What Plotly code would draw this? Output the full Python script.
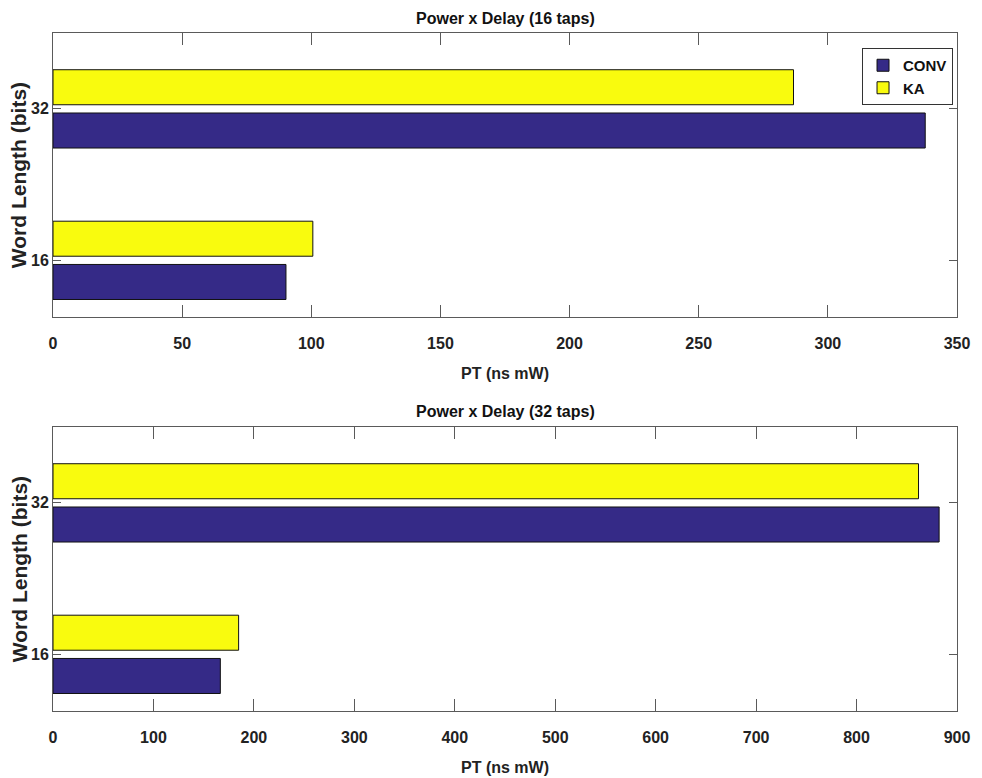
import plotly.graph_objects as go

# Word lengths (bits) on the vertical axis
word_lengths = [16, 32]

# Power x Delay, 16-tap filter (ns mW)
conv_16_taps = [90.2, 337.7]
ka_16_taps = [100.6, 286.7]

# Power x Delay, 32-tap filter (ns mW)
conv_32_taps = [166.6, 882.2]
ka_32_taps = [184.8, 861.7]

series_names = ["CONV", "KA"]
panel_titles = ["Power x Delay (16 taps)", "Power x Delay (32 taps)"]
x_title = "PT (ns mW)"
y_title = "Word Length (bits)"

CONV_COLOR = "#352A87"
KA_COLOR = "#F9FB0E"
AXIS_COLOR = "#5a5a5a"
FONT = "Liberation Sans, Arial, sans-serif"

W, H = 982, 778
M_L, M_R, M_T, M_B = 53, 20, 33, 67
plot_h = H - M_T - M_B


def py(pix):
    """Convert a pixel row of the page to a paper y coordinate."""
    return (H - M_B - pix) / plot_h


def px(pix):
    return (pix - M_L) / (W - M_L - M_R)


panels = [
    dict(conv=conv_16_taps, ka=ka_16_taps, xmax=350, dtick=50,
         top=33, bottom=317, xa="x", ya="y"),
    dict(conv=conv_32_taps, ka=ka_32_taps, xmax=900, dtick=100,
         top=427, bottom=711, xa="x2", ya="y2"),
]

fig = go.Figure()

for i, p in enumerate(panels):
    fig.add_trace(go.Bar(
        y=word_lengths, x=p["conv"], orientation="h", name=series_names[0],
        marker=dict(color=CONV_COLOR, line=dict(color="#111111", width=1)),
        width=3.7, offset=-4.15, xaxis=p["xa"], yaxis=p["ya"],
        legendgroup="conv", showlegend=(i == 0),
    ))
    fig.add_trace(go.Bar(
        y=word_lengths, x=p["ka"], orientation="h", name=series_names[1],
        marker=dict(color=KA_COLOR, line=dict(color="#111111", width=1)),
        width=3.7, offset=0.42, xaxis=p["xa"], yaxis=p["ya"],
        legendgroup="ka", showlegend=(i == 0),
    ))

tick_font = dict(family=FONT, size=16, color="#222222", weight="bold")

axis_common = dict(
    showline=True, linecolor=AXIS_COLOR, linewidth=1, mirror="ticks",
    ticks="inside", tickcolor=AXIS_COLOR, tickwidth=1,
    showgrid=False, zeroline=False, tickfont=tick_font,
)

layout_axes = {}
annotations = []
for i, p in enumerate(panels):
    suffix = "" if i == 0 else str(i + 1)
    layout_axes["xaxis" + suffix] = dict(
        axis_common, domain=[0, 1], anchor=p["ya"], range=[0, p["xmax"]],
        dtick=p["dtick"], tick0=0, ticklen=12, ticklabelstandoff=12,
    )
    layout_axes["yaxis" + suffix] = dict(
        axis_common, domain=[py(p["bottom"]), py(p["top"])], anchor=p["xa"],
        range=[10, 40], tickvals=word_lengths, ticklen=8,
        ticklabelstandoff=0,
    )
    annotations.append(dict(
        text=panel_titles[i], xref="paper", yref="paper", x=0.5,
        y=py(p["top"] - 15), xanchor="center", yanchor="middle",
        showarrow=False,
        font=dict(family=FONT, size=16, color="#111111", weight="bold"),
    ))
    annotations.append(dict(
        text=x_title, xref="paper", yref="paper", x=0.5,
        y=py(p["bottom"] + 56), xanchor="center", yanchor="middle",
        showarrow=False,
        font=dict(family=FONT, size=16, color="#222222", weight="bold"),
    ))
    annotations.append(dict(
        text=y_title, xref="paper", yref="paper", x=px(19),
        y=py((p["top"] + p["bottom"]) / 2), xanchor="center",
        yanchor="middle", textangle=-90, showarrow=False,
        font=dict(family=FONT, size=21, color="#222222", weight="bold"),
    ))

fig.update_layout(
    width=W, height=H,
    margin=dict(l=M_L, r=M_R, t=M_T, b=M_B),
    paper_bgcolor="white", plot_bgcolor="white",
    barmode="overlay",
    showlegend=True,
    legend=dict(
        x=px(958), y=py(48), xanchor="right", yanchor="top",
        bordercolor="#333333", borderwidth=1, bgcolor="white",
        font=dict(family=FONT, size=15, color="#111111", weight="bold"),
        tracegroupgap=0, itemwidth=30,
    ),
    annotations=annotations,
    **layout_axes,
)

fig.write_html("out.html")
